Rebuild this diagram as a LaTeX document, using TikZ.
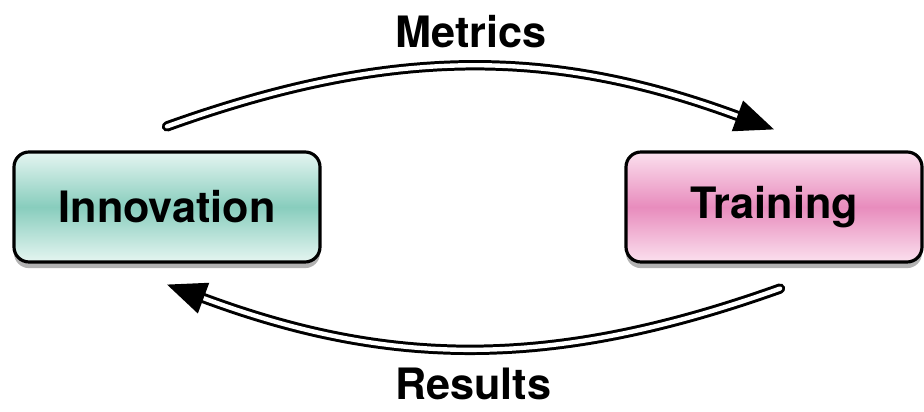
\documentclass[tikz,border=0pt]{standalone}
\usepackage{fontspec}
\setmainfont{TeX Gyre Heros}
\usepackage{xcolor}
\usepackage{tikz}
\usetikzlibrary{arrows.meta,shadows}

\definecolor{innoMid}{RGB}{136,205,189}
\definecolor{innoLight}{RGB}{229,245,241}
\definecolor{trainMid}{RGB}{232,140,189}
\definecolor{trainLight}{RGB}{251,224,238}

\begin{document}
\begin{tikzpicture}[
                    cyc/.style n args={3}{draw=black, line width=1.8pt,
                    rounded corners=0.3cm,
                    top color=#2, bottom color=#2, middle color=#1,
                    minimum width=#3, minimum height=2.2cm,
                    drop shadow={shadow xshift=0pt, shadow yshift=-3.5pt,
                                 opacity=0.3, fill=black},
                    font=\fontsize{24.6}{29}\selectfont\bfseries},
                    flow/.style={draw=black, line width=1.7pt,
                    double=white, double distance=2.5pt, line cap=round},
                    lbl/.style={font=\fontsize{24.6}{29}\selectfont\bfseries}]
    \useasboundingbox (0,0) rectangle (18.48,8.24);

    \node[cyc={innoMid}{innoLight}{6.12cm}](inno) at (3.34,4.10) {Innovation};
    \node[cyc={trainMid}{trainLight}{5.92cm}](train) at (15.48,4.10) {Training};

    % metrics on top, results underneath
    \draw[flow, -{Triangle[length=0.78cm,width=0.64cm]}]
        ([yshift=0.48cm]inno.north) to [bend left=20]
        node[lbl, midway, above=0.24cm] (metrics) {Metrics}
        ([yshift=0.42cm]train.north);
    \draw[flow, -{Triangle[length=0.78cm,width=0.64cm]}]
        ([xshift=0.12cm,yshift=-0.5cm]train.south) to [bend left=20]
        node[lbl, midway, below=0.26cm] (results) {Results}
        ([yshift=-0.42cm]inno.south);
\end{tikzpicture}
\end{document}
